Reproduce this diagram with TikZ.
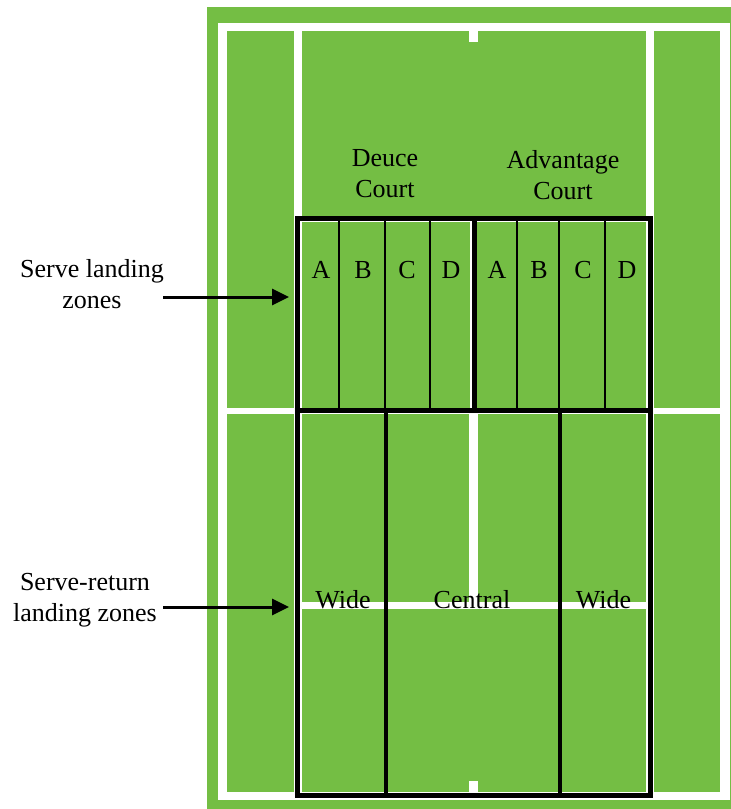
\documentclass[tikz,border=0pt]{standalone}
\usepackage{fontspec}
\setmainfont{Liberation Serif}
\usepackage{tikz}
\usetikzlibrary{arrows.meta}
\definecolor{turf}{RGB}{116,190,68}
\tikzstyle{grass}=[fill=turf]
\tikzstyle{chalk}=[fill=white]
\tikzstyle{zone}=[draw=black,line width=5pt]
\tikzstyle{split}=[draw=black,line width=1.2pt]
\tikzstyle{cut}=[draw=black,line width=4pt]
\tikzstyle{lbl}=[font=\fontsize{26}{31}\selectfont,inner sep=0pt,align=center]
\tikzstyle{pointer}=[-{Triangle[length=17pt,width=16pt]},line width=3pt]

\begin{document}
\begin{tikzpicture}[x=1pt,y=-1pt]
    \useasboundingbox (0,0) rectangle (731,809);
    \fill[grass] (207,7) rectangle (731,809);
    \fill[chalk] (217.5,22.5) rectangle (729.5,800);
    \fill[grass] (227,31) rectangle (294,408);
    \fill[grass] (227,414) rectangle (294,792);
    \fill[grass] (654,31) rectangle (720,408);
    \fill[grass] (654,414) rectangle (720,792);
    \fill[grass] (302,31) rectangle (646,408);
    \fill[grass] (302,414) rectangle (646,792);
    \fill[chalk] (469,31) rectangle (478,42);
    \fill[chalk] (469,781) rectangle (478,792);
    \fill[chalk] (302,216) rectangle (646,222);
    \fill[chalk] (470,222) rectangle (477,408);
    \fill[chalk] (302,602) rectangle (646,609);
    \fill[chalk] (469,414) rectangle (478,602);

    \draw[zone] (297,218) rectangle (650,410);
    \draw[zone] (474,218) -- (474,410);
    \foreach \x in {339,385,430,517,559,605}
        \draw[split] (\x,220) -- (\x,408);
    \draw[zone] (297,410) rectangle (650,795.5);
    \draw[cut] (385.5,410) -- (385.5,795.5);
    \draw[cut] (560,410) -- (560,795.5);

    \node[lbl] (deuce) at (385,174) {Deuce\\Court};
    \node[lbl] (adv) at (563,175) {Advantage\\Court};
    \foreach \x/\l [count=\i] in {321/A,363/B,407/C,451/D,497/A,539/B,583/C,627/D}
        \node[lbl,anchor=base] (z\i) at (\x,278) {\l};
    \node[lbl,anchor=base] (wideL) at (343,608.5) {Wide};
    \node[lbl,anchor=base] (central) at (472,608.5) {Central};
    \node[lbl,anchor=base] (wideR) at (603.5,608.5) {Wide};

    \node[lbl] (srvlbl) at (92,284) {Serve landing\\zones};
    \node[lbl] (retlbl) at (85,600) {Serve-return\\landing zones};
    \coordinate (srvtail) at (163,297);
    \coordinate (srvtip) at (289,297);
    \coordinate (rettail) at (163,607);
    \coordinate (rettip) at (289,607);
    \draw[pointer] (srvtail) -- (srvtip);
    \draw[pointer] (rettail) -- (rettip);
\end{tikzpicture}
\end{document}
